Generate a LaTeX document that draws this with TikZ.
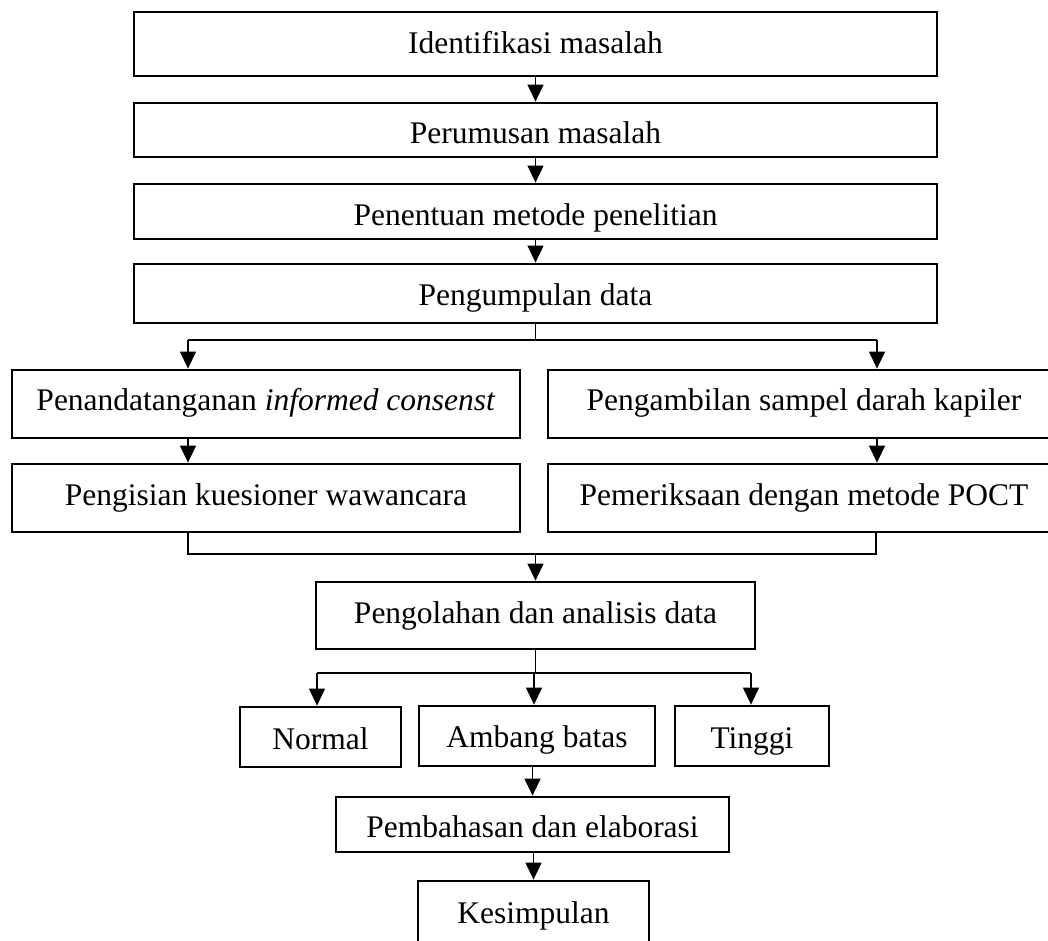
\documentclass[tikz,border=0pt]{standalone}
\usepackage{fontspec}
\setmainfont{Liberation Serif}
\usetikzlibrary{arrows.meta}
\begin{document}
\begin{tikzpicture}[x=1pt,y=-1pt,
  box/.style={draw, line width=2.8pt, rectangle, inner sep=0pt, text height=30pt,
    font=\fontsize{31.5}{36}\selectfont},
  conn/.style={line width=1.3pt},
  arr/.style={conn, -{Triangle[length=17pt,width=16pt]}}]
\useasboundingbox (0,0) rectangle (1048,940);
\clip (0,0) rectangle (1048,940);
% top chain
\node[box, minimum width=803pt, minimum height=64pt, text depth=12pt] (b1) at (535.5,44) {Identifikasi masalah};
\node[box, minimum width=803pt, minimum height=54pt, text depth=4pt] (b2) at (535.5,130) {Perumusan masalah};
\node[box, minimum width=803pt, minimum height=55pt, text depth=3pt] (b3) at (535.5,211.5) {Penentuan metode penelitian};
\node[box, minimum width=803pt, minimum height=59pt, text depth=7pt] (b4) at (535.5,293.5) {Pengumpulan data};
% two columns
\node[box, minimum width=508pt, minimum height=68pt, text depth=18pt] (L1) at (266,404) {Penandatanganan \textit{informed consenst}};
\node[box, minimum width=512pt, minimum height=68pt, text depth=18pt] (R1) at (804,404) {Pengambilan sampel darah kapiler};
\node[box, minimum width=508pt, minimum height=68pt, text depth=16pt] (L2) at (266,498) {Pengisian kuesioner wawancara};
\node[box, minimum width=512pt, minimum height=68pt, text depth=16pt] (R2) at (804,498) {Pemeriksaan dengan metode POCT};
% analysis
\node[box, minimum width=439pt, minimum height=67pt, text depth=15pt] (P) at (535.5,615.5) {Pengolahan dan analisis data};
\node[box, minimum width=161pt, minimum height=60pt, text depth=6pt] (N) at (320.5,737) {Normal};
\node[box, minimum width=236pt, minimum height=60pt, text depth=8pt] (A) at (537,736) {Ambang batas};
\node[box, minimum width=154pt, minimum height=60pt, text depth=6pt] (T) at (752,736) {Tinggi};
\node[box, minimum width=393pt, minimum height=55pt, text depth=5pt] (Pb) at (532.5,824.5) {Pembahasan dan elaborasi};
\node[box, minimum width=231pt, minimum height=64pt, text depth=10pt] (K) at (533.5,913) {Kesimpulan};
% junction coordinates
\coordinate (s1) at (535.5,340);
\coordinate (s1L) at (188,340);
\coordinate (s1R) at (877,340);
\coordinate (m1) at (535.5,554);
\coordinate (m1L) at (188,554);
\coordinate (m1R) at (876,554);
\coordinate (s2) at (535.5,673);
\coordinate (s2L) at (317,673);
\coordinate (s2M) at (534,673);
\coordinate (s2R) at (751,673);
% connectors
\draw[arr] (b1) -- (b2);
\draw[arr] (b2) -- (b3);
\draw[arr] (b3) -- (b4);
\draw[conn] (b4.south) -- (s1);
\draw[conn] (s1L) -- (s1R);
\draw[arr] (s1L) -- (s1L |- L1.north);
\draw[arr] (s1R) -- (s1R |- R1.north);
\draw[arr] (L1.south -| s1L) -- (L2.north -| s1L);
\draw[arr] (R1.south -| s1R) -- (R2.north -| s1R);
\draw[conn] (L2.south -| m1L) -- (m1L) -- (m1R) -- (R2.south -| m1R);
\draw[arr] (m1) -- (P.north);
\draw[conn] (P.south -| s2) -- (s2);
\draw[conn] (s2L) -- (s2R);
\draw[arr] (s2L) -- (s2L |- N.north);
\draw[arr] (s2M) -- (s2M |- A.north);
\draw[arr] (s2R) -- (s2R |- T.north);
\draw[arr] (A.south -| Pb.north) -- (Pb.north);
\draw[arr] (Pb.south -| K.north) -- (K.north);
\end{tikzpicture}
\end{document}
